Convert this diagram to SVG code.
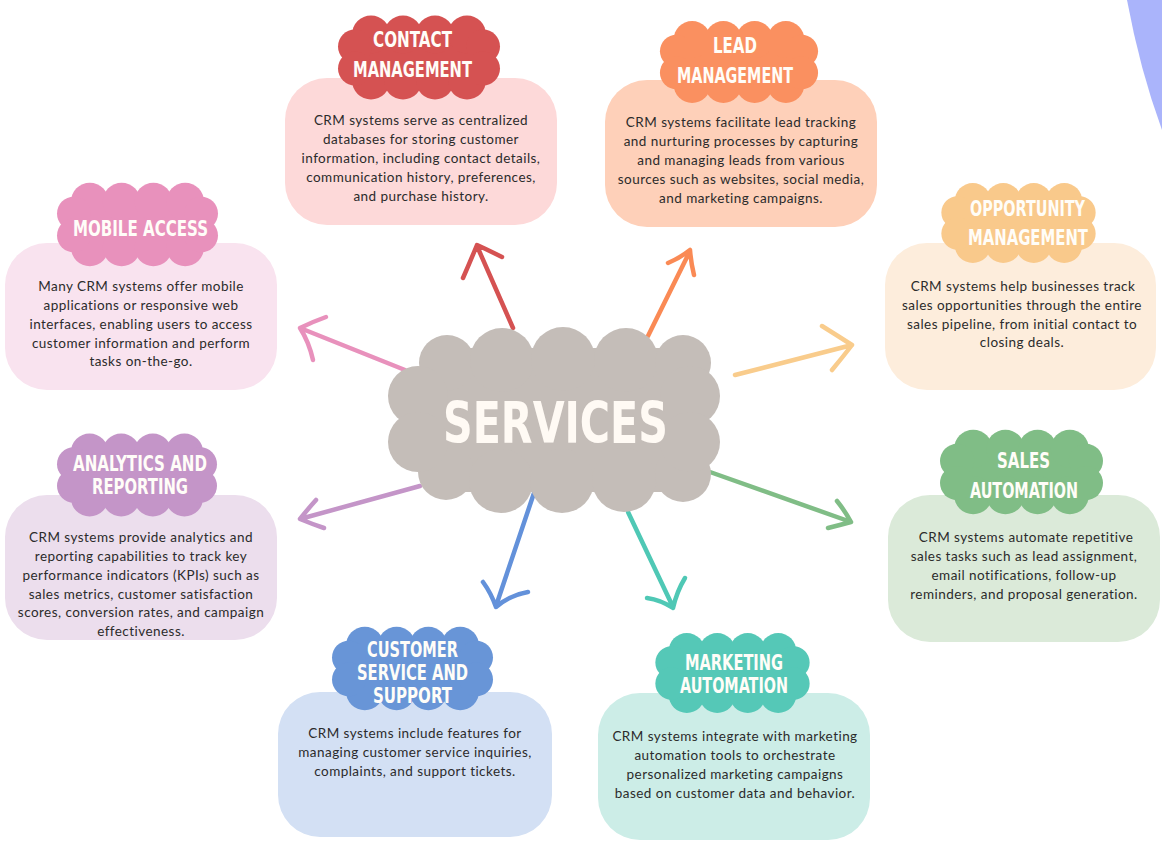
<svg xmlns="http://www.w3.org/2000/svg" xmlns:xlink="http://www.w3.org/1999/xlink" width="1162" height="844" viewBox="0 0 1162 844">
<style>
.body{font-family:Lato,"Open Sans",sans-serif;font-size:13.5px;letter-spacing:0.45px;fill:#2b2b2b;text-anchor:middle}
.ttl{font-family:"DejaVu Sans Condensed","Liberation Sans Narrow",sans-serif;font-weight:bold;font-size:21px;fill:#fffdf8;text-anchor:middle}
.arr{fill:none;stroke-width:4.5;stroke-linecap:round;stroke-linejoin:round}
</style>
<defs>
<symbol id="tcloud" viewBox="-81 -42 162 84" overflow="visible">
<rect x="-62" y="-27" width="124" height="54"/>
<circle cx="-48" cy="-23" r="19"/><circle cx="-16" cy="-23" r="19"/><circle cx="16" cy="-23" r="19"/><circle cx="48" cy="-23" r="19"/>
<circle cx="-48" cy="23" r="19"/><circle cx="-16" cy="23" r="19"/><circle cx="16" cy="23" r="19"/><circle cx="48" cy="23" r="19"/>
<circle cx="-64" cy="-11" r="17"/><circle cx="-64" cy="11" r="17"/><circle cx="64" cy="-11" r="17"/><circle cx="64" cy="11" r="17"/>
</symbol>
</defs>
<rect width="1162" height="844" fill="#ffffff"/>
<path d="M1127,0 Q1140,70 1162,130 L1162,0 Z" fill="#aab4fb"/>

<g id="connectors">
<path class="arr" stroke="#d55252" d="M513,328 L477,246 M502,257 Q488,250 477,245 Q470,262 463,278"/>
<path class="arr" stroke="#e891bc" d="M405,370 L300,328 M326,317 Q312,322 300,328 Q309,342 313,360"/>
<path class="arr" stroke="#fa8a55" d="M648,336 L690,251 M668,263 Q680,258 690,250 Q691,263 694,275"/>
<path class="arr" stroke="#f9cc8c" d="M735,375 L852,345 M822,326 Q838,336 852,345 Q842,358 832,370"/>
<path class="arr" stroke="#80bd86" d="M710,472 L851,522 M837,501 Q845,511 851,522 Q840,525 828,528"/>
<path class="arr" stroke="#c495c8" d="M420,486 L300,519 M316,500 Q307,510 300,519 Q312,524 324,528"/>
<path class="arr" stroke="#4fc8b5" d="M628,512 L673,607 M647,598 Q661,600 673,608 Q677,591 685,578"/>
<path class="arr" stroke="#6391da" d="M534,493 L496,606 M483,582 Q491,593 496,607 Q510,595 528,592"/>
</g>

<g id="center" fill="#c4bdb8">
<rect x="435" y="348" width="240" height="144"/>
<rect x="405" y="380" width="300" height="80"/>
<circle cx="447" cy="363" r="28"/><circle cx="502" cy="360" r="32"/><circle cx="563" cy="359" r="32"/><circle cx="626" cy="360" r="32"/><circle cx="683" cy="363" r="28"/>
<circle cx="446" cy="472" r="28"/><circle cx="501" cy="481" r="32"/><circle cx="562" cy="481" r="32"/><circle cx="624" cy="480" r="32"/><circle cx="683" cy="474" r="28"/>
<circle cx="418" cy="396" r="30"/><circle cx="418" cy="442" r="30"/><circle cx="690" cy="396" r="30"/><circle cx="690" cy="442" r="30"/>
<text x="555.5" y="443" font-family="'DejaVu Sans Condensed','Liberation Sans Narrow',sans-serif" font-weight="bold" font-size="57" fill="#fffaf4" text-anchor="middle" textLength="225" lengthAdjust="spacingAndGlyphs">SERVICES</text>
</g>

<g id="contact">
<rect x="285" y="78" width="272" height="147" rx="42" fill="#fdd9d9"/>
<use href="#tcloud" x="338" y="15" width="162" height="85" fill="#d55252"/>
<text class="ttl" x="412.5" y="47" textLength="79" lengthAdjust="spacingAndGlyphs">CONTACT</text>
<text class="ttl" x="412.5" y="77" textLength="119" lengthAdjust="spacingAndGlyphs">MANAGEMENT</text>
<text class="body" x="421" y="124.5">CRM systems serve as centralized</text>
<text class="body" x="421" y="143.5">databases for storing customer</text>
<text class="body" x="421" y="162.5">information, including contact details,</text>
<text class="body" x="421" y="181.5">communication history, preferences,</text>
<text class="body" x="421" y="200.5">and purchase history.</text>
</g>

<g id="lead">
<rect x="605" y="80" width="272" height="147" rx="42" fill="#fed0b9"/>
<use href="#tcloud" x="658" y="21" width="162" height="82" fill="#fa9060"/>
<text class="ttl" x="735" y="52.5" textLength="44" lengthAdjust="spacingAndGlyphs">LEAD</text>
<text class="ttl" x="735" y="82.5" textLength="116" lengthAdjust="spacingAndGlyphs">MANAGEMENT</text>
<text class="body" x="741" y="126.5">CRM systems facilitate lead tracking</text>
<text class="body" x="741" y="145.5">and nurturing processes by capturing</text>
<text class="body" x="741" y="164.5">and managing leads from various</text>
<text class="body" x="741" y="183.5">sources such as websites, social media,</text>
<text class="body" x="741" y="202.5">and marketing campaigns.</text>
</g>

<g id="mobile">
<rect x="5" y="243" width="272" height="147" rx="42" fill="#f9e3ef"/>
<use href="#tcloud" x="57" y="182" width="161" height="85" fill="#e891bc"/>
<text class="ttl" x="140.5" y="235.5" textLength="135" lengthAdjust="spacingAndGlyphs">MOBILE ACCESS</text>
<text class="body" x="141" y="291">Many CRM systems offer mobile</text>
<text class="body" x="141" y="309.5">applications or responsive web</text>
<text class="body" x="141" y="328.5">interfaces, enabling users to access</text>
<text class="body" x="141" y="347.5">customer information and perform</text>
<text class="body" x="141" y="365.5">tasks on-the-go.</text>
</g>

<g id="opportunity">
<rect x="885" y="243" width="271" height="147" rx="42" fill="#fdeddc"/>
<use href="#tcloud" x="937" y="183" width="163" height="80" fill="#f9c98b"/>
<text class="ttl" x="1027.5" y="215.5" textLength="115" lengthAdjust="spacingAndGlyphs">OPPORTUNITY</text>
<text class="ttl" x="1028" y="244.5" textLength="120" lengthAdjust="spacingAndGlyphs">MANAGEMENT</text>
<text class="body" x="1023" y="290.5">CRM systems help businesses track</text>
<text class="body" x="1022" y="309.5">sales opportunities through the entire</text>
<text class="body" x="1022" y="328.5">sales pipeline, from initial contact to</text>
<text class="body" x="1022" y="346.5">closing deals.</text>
</g>

<g id="analytics">
<rect x="5" y="495" width="272" height="145" rx="42" fill="#ecdeed"/>
<use href="#tcloud" x="57" y="433" width="160" height="84" fill="#c495c8"/>
<text class="ttl" x="140" y="470.5" font-size="17" textLength="134" lengthAdjust="spacingAndGlyphs">ANALYTICS AND</text>
<text class="ttl" x="140" y="494" font-size="17" textLength="96" lengthAdjust="spacingAndGlyphs">REPORTING</text>
<text class="body" x="141" y="541.5">CRM systems provide analytics and</text>
<text class="body" x="141" y="560.5">reporting capabilities to track key</text>
<text class="body" x="141" y="579.5">performance indicators (KPIs) such as</text>
<text class="body" x="141" y="598.5">sales metrics, customer satisfaction</text>
<text class="body" x="141" y="616.5">scores, conversion rates, and campaign</text>
<text class="body" x="141" y="635.5">effectiveness.</text>
</g>

<g id="sales">
<rect x="888" y="495" width="272" height="147" rx="42" fill="#dbead9"/>
<use href="#tcloud" x="940" y="427" width="163" height="90" fill="#80bd86"/>
<text class="ttl" x="1023.5" y="467.5" textLength="53" lengthAdjust="spacingAndGlyphs">SALES</text>
<text class="ttl" x="1024" y="497.5" textLength="108" lengthAdjust="spacingAndGlyphs">AUTOMATION</text>
<text class="body" x="1026" y="541.5">CRM systems automate repetitive</text>
<text class="body" x="1024" y="560.5">sales tasks such as lead assignment,</text>
<text class="body" x="1024" y="579.5">email notifications, follow-up</text>
<text class="body" x="1024" y="598.5">reminders, and proposal generation.</text>
</g>

<g id="customer">
<rect x="278" y="692" width="274" height="145" rx="42" fill="#d3e0f4"/>
<use href="#tcloud" x="332" y="623" width="161" height="91" fill="#6895d7"/>
<text class="ttl" x="412.5" y="657" font-size="16.5" textLength="91" lengthAdjust="spacingAndGlyphs">CUSTOMER</text>
<text class="ttl" x="412.5" y="680" font-size="16.5" textLength="111" lengthAdjust="spacingAndGlyphs">SERVICE AND</text>
<text class="ttl" x="412.5" y="703" font-size="16.5" textLength="79" lengthAdjust="spacingAndGlyphs">SUPPORT</text>
<text class="body" x="415" y="738">CRM systems include features for</text>
<text class="body" x="415" y="757">managing customer service inquiries,</text>
<text class="body" x="415" y="776">complaints, and support tickets.</text>
</g>

<g id="marketing">
<rect x="598" y="693" width="272" height="147" rx="42" fill="#ccede7"/>
<use href="#tcloud" x="652" y="633" width="161" height="80" fill="#55c8b7"/>
<text class="ttl" x="734" y="669.5" textLength="98" lengthAdjust="spacingAndGlyphs">MARKETING</text>
<text class="ttl" x="734" y="692.5" textLength="108" lengthAdjust="spacingAndGlyphs">AUTOMATION</text>
<text class="body" x="735" y="740.5">CRM systems integrate with marketing</text>
<text class="body" x="735" y="759.5">automation tools to orchestrate</text>
<text class="body" x="735" y="778.5">personalized marketing campaigns</text>
<text class="body" x="735" y="797.5">based on customer data and behavior.</text>
</g>
</svg>
